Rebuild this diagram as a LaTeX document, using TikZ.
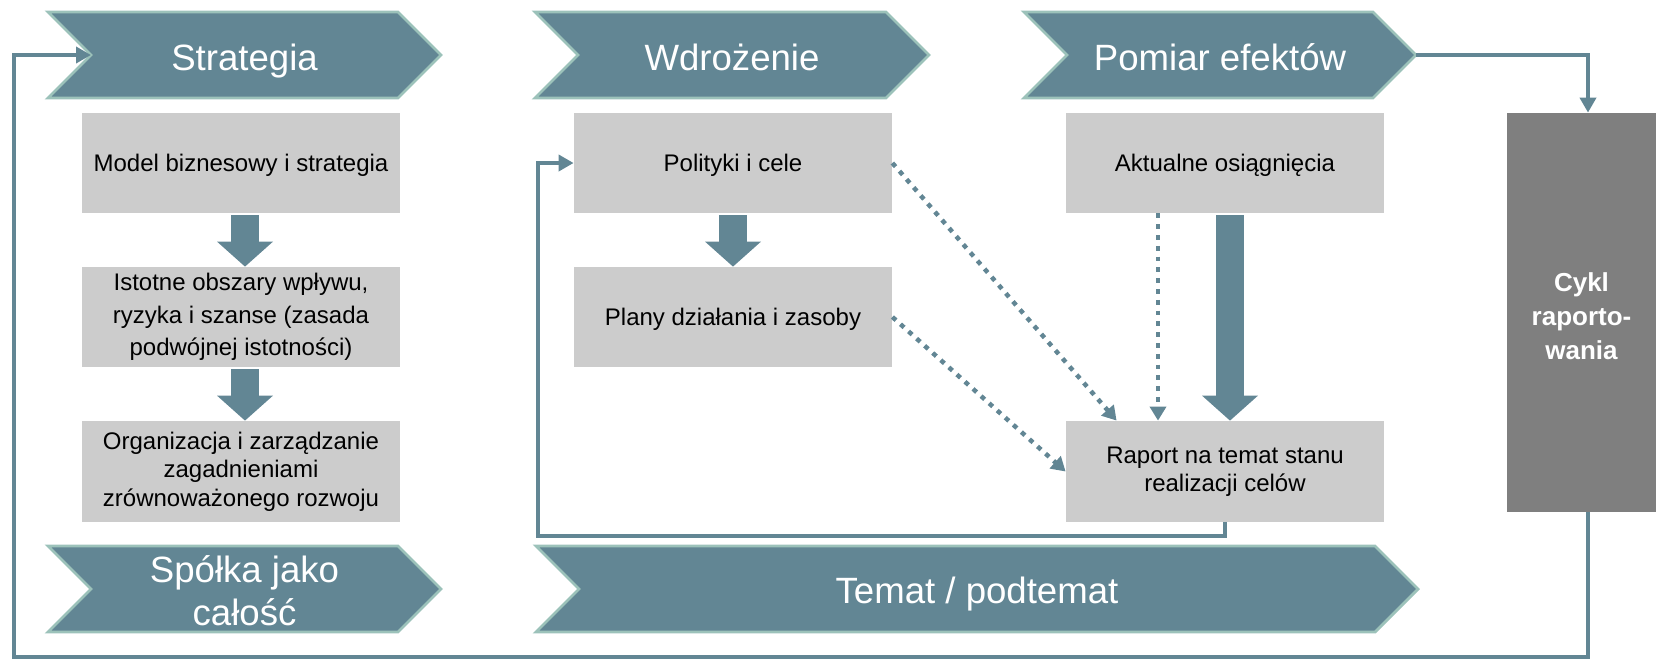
\documentclass[tikz,border=0pt]{standalone}
\usepackage{fontspec}
\setmainfont{Liberation Sans}
\usetikzlibrary{arrows.meta,calc}
\definecolor{chevc}{HTML}{628694}
\definecolor{chevline}{HTML}{9CC2BA}
\definecolor{boxc}{HTML}{CCCCCC}
\definecolor{cyklc}{HTML}{7F7F7F}
\begin{document}
\begin{tikzpicture}[x=0.5pt,y=-0.5pt,
  chev/.style={fill=chevc, draw=chevline, line width=1.4pt, line join=miter},
  chevtext/.style={text=white, font=\fontsize{18.3}{21.5}\selectfont, align=center, inner sep=0pt},
  gbox/.style={fill=boxc, minimum width=159pt, minimum height=50pt, inner sep=0pt, align=center, font=\fontsize{12}{14.2}\selectfont},
  gboxone/.style={fill=boxc, minimum width=159pt, minimum height=50pt, inner sep=0pt, text height=8.6pt, text depth=0pt, font=\fontsize{12}{14.2}\selectfont},
  cyklbox/.style={fill=cyklc, minimum width=74.5pt, minimum height=199.5pt, inner sep=0pt, text=white, align=center, font=\bfseries\fontsize{13}{17}\selectfont},
  blockarrow/.style={draw=chevc, line width=14pt, -{Triangle[width=28pt,length=12.5pt,line width=0pt]}, shorten <=1pt},
  dotline/.style={draw=chevc, line width=2.25pt, dash pattern=on 2.4pt off 3pt, -{Triangle[width=8pt,length=7pt]}},
  fb/.style={draw=chevc, line width=2.25pt, line join=miter, -{Triangle[width=8pt,length=7.5pt]}}
]
\useasboundingbox (0,0) rectangle (1656,660);

% chevrons
\path[chev] (48,12) -- (398,12) -- (441,55) -- (398,98) -- (48,98) -- (91,55) -- cycle;
\node[chevtext, anchor=base] (strat) at (244.5,70) {Strategia};
\path[chev] (535,12) -- (886,12) -- (929,55) -- (886,98) -- (535,98) -- (578,55) -- cycle;
\node[chevtext, anchor=base] (wdr) at (732,70) {Wdrożenie};
\path[chev] (1024,12) -- (1373,12) -- (1416,55) -- (1373,98) -- (1024,98) -- (1067,55) -- cycle;
\node[chevtext, anchor=base] (pom) at (1220,70) {Pomiar efektów};
\path[chev] (48,546) -- (398,546) -- (441,589) -- (398,632) -- (48,632) -- (91,589) -- cycle;
\node[chevtext] (spolka) at (244.5,591) {Spółka jako\\całość};
\path[chev] (536,546) -- (1375,546) -- (1418,589) -- (1375,632) -- (536,632) -- (579,589) -- cycle;
\node[chevtext, anchor=base] (temat) at (977,603) {Temat / podtemat};

\coordinate (stratNotch) at (91,55);
\coordinate (pomTip) at (1416,55);
\coordinate (fbBR) at (1588,657);
\coordinate (fbBL) at (14,657);
\coordinate (retc) at (538,536);

% boxes
\node[gboxone] (model) at (241,163) {Model biznesowy i strategia};
\node[gbox, font=\fontsize{12}{16.3}\selectfont] (istotne) at (241,317) {Istotne obszary wpływu,\\ryzyka i szanse (zasada\\podwójnej istotności)};
\node[gbox, minimum height=50.5pt] (org) at (241,471.5) {Organizacja i zarządzanie\\zagadnieniami\\zrównoważonego rozwoju};
\node[gboxone] (polityki) at (733,163) {Polityki i cele};
\node[gboxone] (plany) at (733,317) {Plany działania i zasoby};
\node[gboxone] (aktualne) at (1225,163) {Aktualne osiągnięcia};
\node[gbox, minimum height=50.5pt] (raport) at (1225,471.5) {Raport na temat stanu\\realizacji celów};
\node[cyklbox] (cykl) at (1581.5,312.5) {\rule{0pt}{12.7pt}Cykl\\raporto-\\wania};

% block arrows
\draw[blockarrow] ($(model.south)+(4,0)$) -- ($(istotne.north)+(4,0)$);
\draw[blockarrow] ($(istotne.south)+(4,0)$) -- ($(org.north)+(4,0)$);
\draw[blockarrow] (polityki.south) -- (plany.north);
\draw[blockarrow] ($(aktualne.south)+(5,0)$) -- ($(raport.north)+(5,0)$);

% dotted arrows
\draw[dotline] (polityki.east) -- ($(raport.north west)+(51,0)$);
\draw[dotline] (plany.east) -- (raport.west);
\draw[dotline] ($(aktualne.south)+(-67,0)$) -- ($(raport.north)+(-67,0)$);

% feedback lines
\draw[fb] (pomTip) -| ($(cykl.north)+(6.5,0)$);
\draw[fb] ($(cykl.south)+(6.5,0)$) -- (fbBR) -- (fbBL) |- (stratNotch);
\draw[fb] (raport.south) |- (retc) |- (polityki.west);
\end{tikzpicture}
\end{document}
